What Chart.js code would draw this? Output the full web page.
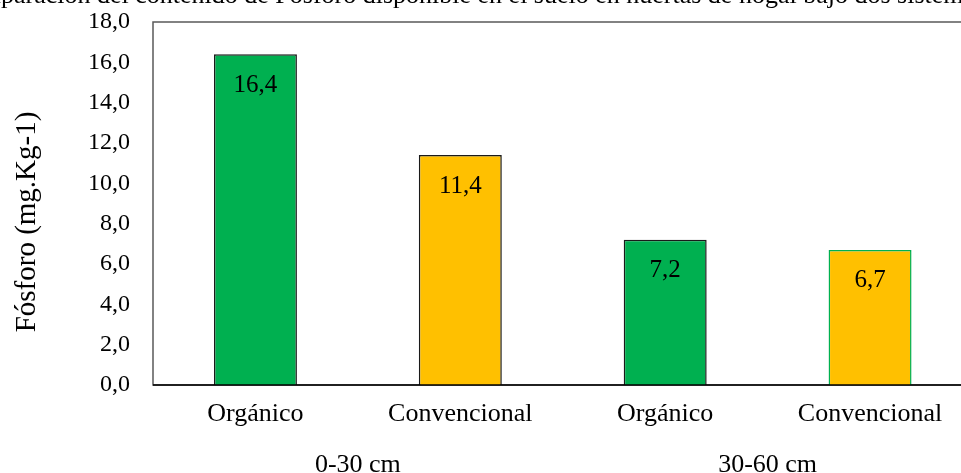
<!DOCTYPE html>
<html lang="es">
<head>
<meta charset="utf-8">
<title>Fósforo disponible</title>
<script src="https://cdn.jsdelivr.net/npm/chart.js@4.4.1/dist/chart.umd.min.js"></script>
<style>
    html, body { margin: 0; padding: 0; background: #fff; overflow: hidden; }
    #wrap { position: relative; width: 985px; height: 473px; }
</style>
</head>
<body>
<div id="wrap"><canvas id="chart"></canvas></div>
<script>
// Datos
const categories = ['Orgánico', 'Convencional', 'Orgánico', 'Convencional'];
const depthGroups = ['0-30 cm', '30-60 cm'];
const phosphorus = [16.4, 11.4, 7.2, 6.7];
const yTicks = [0, 2, 4, 6, 8, 10, 12, 14, 16, 18];

const chartTitle = 'Comparación del contenido de Fósforo disponible en el suelo en huertas de nogal bajo dos sistemas de manejo';
const yAxisTitle = 'Fósforo (mg.Kg-1)';

const serif = "'Liberation Serif', 'Times New Roman', serif";
const green = '#00B050';
const amber = '#FFC000';

const fmt = v => v.toFixed(1).replace('.', ',');

// marco del área de trazado, título recortado y etiquetas de valores
const decor = {
    id: 'decor',
    beforeDatasetsDraw(chart) {
        const { ctx, chartArea: a } = chart;
        ctx.save();
        ctx.strokeStyle = '#595959';
        ctx.lineWidth = 1.5;
        ctx.strokeRect(a.left, a.top, a.right - a.left, a.bottom - a.top);
        ctx.restore();
    },
    afterDatasetsDraw(chart) {
        const { ctx, chartArea: a } = chart;
        ctx.save();
        ctx.fillStyle = '#000';
        ctx.font = `26px ${serif}`;

        // título (sale cortado por el borde superior)
        ctx.textAlign = 'left';
        ctx.textBaseline = 'alphabetic';
        const lead = ctx.measureText('Com').width;
        ctx.fillText(chartTitle, 1 - lead, 3);

        // título del eje Y
        ctx.save();
        ctx.translate(27, 222);
        ctx.rotate(-Math.PI / 2);
        ctx.textAlign = 'center';
        ctx.textBaseline = 'middle';
        ctx.font = `29px ${serif}`;
        ctx.fillText(yAxisTitle, 0, 0);
        ctx.restore();

        // valores dentro de las barras
        ctx.font = `25px ${serif}`;
        ctx.textAlign = 'center';
        ctx.textBaseline = 'middle';
        chart.getDatasetMeta(0).data.forEach((bar, i) => {
            ctx.fillText(fmt(phosphorus[i]), bar.x, bar.y + 31);
        });

        // eje X inferior
        ctx.strokeStyle = '#000';
        ctx.lineWidth = 1.5;
        ctx.beginPath();
        ctx.moveTo(a.left, a.bottom);
        ctx.lineTo(a.right, a.bottom);
        ctx.stroke();
        ctx.restore();
    }
};

new Chart(document.getElementById('chart'), {
    type: 'bar',
    data: {
        labels: categories,
        datasets: [{
            data: phosphorus,
            backgroundColor: [green, amber, green, amber],
            borderColor: ['#1a1a1a', '#1a1a1a', '#1a1a1a', green],
            borderWidth: 1.5,
            barPercentage: 0.405,
            categoryPercentage: 1
        }]
    },
    options: {
        responsive: true,
        maintainAspectRatio: false,
        animation: false,
        devicePixelRatio: 1,
        layout: { padding: { top: 22, right: 12.5, left: 0, bottom: 0 } },
        plugins: {
            legend: { display: false },
            title: { display: false },
            tooltip: { enabled: false }
        },
        scales: {
            x: {
                position: 'bottom',
                weight: 0,
                grid: { display: false, drawTicks: false },
                border: { display: false },
                ticks: { color: '#000', padding: 14, font: { family: serif, size: 26 } },
                afterFit: s => { s.height = 45; }
            },
            x2: {
                type: 'category',
                position: 'bottom',
                weight: 1,
                labels: depthGroups,
                offset: true,
                grid: { display: false, drawTicks: false },
                border: { display: false },
                ticks: { color: '#000', padding: 20, font: { family: serif, size: 26 } },
                afterFit: s => { s.height = 43; }
            },
            y: {
                min: 0,
                max: 18,
                grid: { display: false, drawTicks: false },
                border: { display: false },
                afterBuildTicks: s => { s.ticks = yTicks.map(v => ({ value: v })); },
                afterFit: s => {
                    s.width = 153;
                    s.paddingTop = 0;
                    s.paddingBottom = 0;
                },
                ticks: {
                    color: '#000',
                    padding: 23,
                    font: { family: serif, size: 24 },
                    callback: v => fmt(v)
                }
            }
        }
    },
    plugins: [decor]
});
</script>
</body>
</html>
